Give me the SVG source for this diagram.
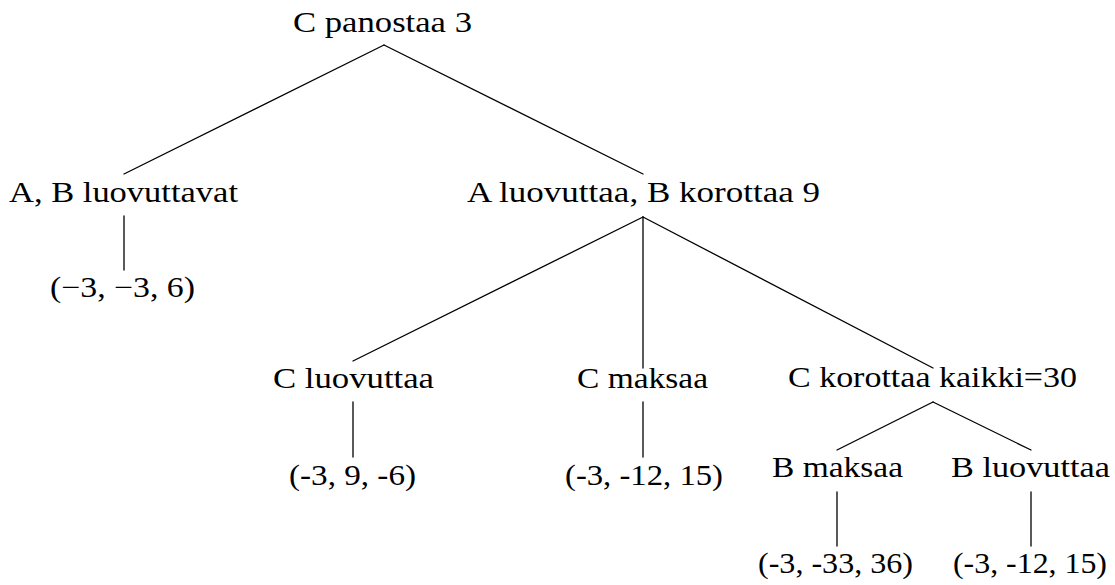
<svg xmlns="http://www.w3.org/2000/svg" width="1115" height="585" viewBox="0 0 1115 585">
<style>
.t text{font-size:29px;fill:#000;text-anchor:middle}
.e{stroke:#000;stroke-width:1.3;fill:none;stroke-linecap:round}
</style>
<rect width="1115" height="585" fill="#fff"/>
<g id="connectors">
<line class="e" x1="384" y1="45" x2="124" y2="174"/>
<line class="e" x1="384" y1="45" x2="643" y2="174"/>
<line class="e" x1="124" y1="216" x2="124" y2="270"/>
<line class="e" x1="643" y1="217" x2="353" y2="361"/>
<line class="e" x1="643" y1="217" x2="643" y2="368"/>
<line class="e" x1="643" y1="217" x2="933" y2="368"/>
<line class="e" x1="353" y1="402" x2="353" y2="457"/>
<line class="e" x1="643" y1="402" x2="643" y2="457"/>
<line class="e" x1="933" y1="402" x2="837" y2="450"/>
<line class="e" x1="933" y1="402" x2="1031" y2="450"/>
<line class="e" x1="837" y1="492" x2="837" y2="546"/>
<line class="e" x1="1031" y1="492" x2="1031" y2="546"/>
</g>
<g class="t" font-family="Liberation Serif, Times New Roman, serif">
<g id="root"><text x="382.5" y="32" textLength="179" lengthAdjust="spacingAndGlyphs">C panostaa 3</text></g>
<g id="ab-luovuttavat"><text x="123.5" y="202" textLength="229" lengthAdjust="spacingAndGlyphs">A, B luovuttavat</text></g>
<g id="leaf-1"><text x="122.5" y="297" textLength="145" lengthAdjust="spacingAndGlyphs">(−3, −3, 6)</text></g>
<g id="a-luovuttaa"><text x="643.5" y="202" textLength="353" lengthAdjust="spacingAndGlyphs">A luovuttaa, B korottaa 9</text></g>
<g id="c-luovuttaa"><text x="353.5" y="388" textLength="161" lengthAdjust="spacingAndGlyphs">C luovuttaa</text></g>
<g id="leaf-2"><text x="352.5" y="485" textLength="127" lengthAdjust="spacingAndGlyphs">(-3, 9, -6)</text></g>
<g id="c-maksaa"><text x="642.5" y="388" textLength="131" lengthAdjust="spacingAndGlyphs">C maksaa</text></g>
<g id="leaf-3"><text x="644" y="485" textLength="158" lengthAdjust="spacingAndGlyphs">(-3, -12, 15)</text></g>
<g id="c-korottaa"><text x="932.5" y="387" textLength="289" lengthAdjust="spacingAndGlyphs">C korottaa kaikki=30</text></g>
<g id="b-maksaa"><text x="837.5" y="477" textLength="131" lengthAdjust="spacingAndGlyphs">B maksaa</text></g>
<g id="b-luovuttaa"><text x="1030.5" y="477" textLength="159" lengthAdjust="spacingAndGlyphs">B luovuttaa</text></g>
<g id="leaf-4"><text x="835.5" y="573" textLength="155" lengthAdjust="spacingAndGlyphs">(-3, -33, 36)</text></g>
<g id="leaf-5"><text x="1030" y="573" textLength="154" lengthAdjust="spacingAndGlyphs">(-3, -12, 15)</text></g>
</g>
</svg>
